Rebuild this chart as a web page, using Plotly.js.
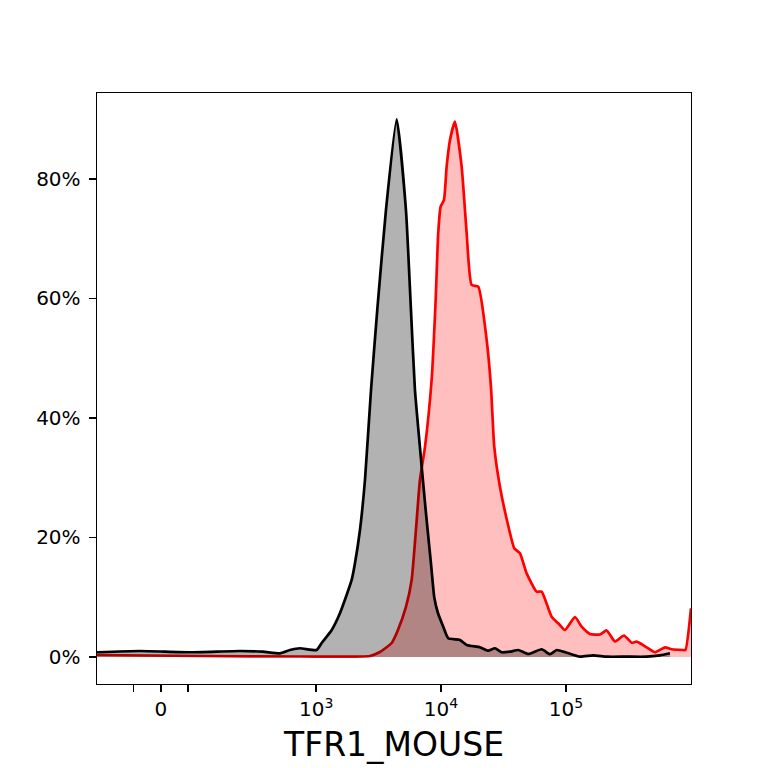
<!DOCTYPE html>
<html>
<head>
<meta charset="utf-8">
<script src="https://cdn.plot.ly/plotly-3.0.1.min.js"></script>
<style>
  html, body { margin: 0; padding: 0; background: white; }
  #chart { width: 768px; height: 768px; }
</style>
</head>
<body>
<div id="chart"></div>
<script>
// raw fluorescence values (TFR1_MOUSE) and % of max
const controlX = [-169, -46, 64, 233, 368, 508, 614, 740, 1009, 1107, 1334, 1555, 1928, 2050, 2247,
    2464, 2752, 3091, 3628, 4419, 5244, 5750, 6188, 6785, 7579, 8309, 8832, 9453, 10425, 11431,
    14180, 16043, 20499, 23880, 27019, 30573, 35616, 41504, 49904, 63865, 74405, 84180, 101229,
    129318, 165140, 211485, 305728, 441945, 564478, 678672];
const controlY = [0.79, 1.00, 0.79, 1.00, 0.89, 0.62, 1.17, 1.46, 1.17, 2.34, 4.52, 7.36, 12.89, 15.73, 21.26,
    29.62, 44.6, 58.1, 74.8, 90.0, 74.8, 58.1, 44.7, 35.1, 24.1, 15.7, 10.0, 7.36, 5.07, 3.13,
    2.85, 2.01, 1.62, 1.05, 1.46, 0.79, 0.89, 1.17, 0.50, 1.29, 0.47, 1.17, 0.72,
    0.05, 0.28, 0.05, 0.05, 0.05, 0.28, 0.62];

const stainedX = [-169, 90, 740, 2701, 3248, 3562, 4031, 4525, 5244, 5825, 6302, 6785, 7441, 8418, 9062,
    9505, 9936, 10563, 11098, 11793, 12932, 14628, 16043, 17589, 19866, 23190, 25099, 26674, 29624,
    34512, 38554, 42820, 48455, 58248, 63865, 76763, 86710, 98095, 117933, 133400, 155480, 186933,
    211485, 246388, 290835, 335225, 367483, 441945, 514855, 618988, 700120, 867273, 903000, 1000000];
const stainedY = [0.33, 0.17, 0.08, 0.17, 0.84, 1.42, 2.34, 4.52, 8.37, 12.89, 21.26, 29.62, 35.1, 46.4, 59.7,
    70.96, 75.36, 76.5, 82.06, 86.5, 89.6, 82.06, 70.96, 62.26, 61.97, 53.05, 45.24, 35.2, 28.5,
    21.97, 18.19, 17.36, 14.0, 10.93, 10.93, 6.74, 5.64, 4.52, 6.69, 5.07, 3.85, 3.77,
    4.44, 2.59, 3.60, 2.39, 2.56, 1.62, 0.79, 1.62, 1.29, 1.17, 1.17, 8.15];

const xTickValues = [0, 1e3, 1e4, 1e5];
const xTickLabels = ['0', '10<sup>3</sup>', '10<sup>4</sup>', '10<sup>5</sup>'];
const xMinorTicks = [-60, 60];
const yTickValues = [0, 20, 40, 60, 80];
const yTickLabels = ['0%', '20%', '40%', '60%', '80%'];
const xLimits = [-169, 1e6];
const yLimits = [-4.52, 94.39];

// biexponential-like display scale (linear near zero, log for large values)
const SCALE_W = 115;
function bix(v) {
    return Math.asinh(v / SCALE_W) / Math.LN10;
}

const traces = [
    {
        x: stainedX.map(bix),
        y: stainedY,
        type: 'scatter',
        mode: 'lines',
        fill: 'tozeroy',
        fillcolor: 'rgba(255,0,0,0.25)',
        line: { color: '#ff0000', width: 2.7, shape: 'spline', smoothing: 0.5 },
        hoverinfo: 'skip'
    },
    {
        x: controlX.map(bix),
        y: controlY,
        type: 'scatter',
        mode: 'lines',
        fill: 'tozeroy',
        fillcolor: 'rgba(0,0,0,0.3)',
        line: { color: '#000000', width: 2.7, shape: 'spline', smoothing: 0.5 },
        hoverinfo: 'skip'
    }
];

const axisStyle = {
    showline: true,
    mirror: true,
    linecolor: 'black',
    linewidth: 1.4,
    ticks: 'outside',
    ticklen: 7,
    tickwidth: 1.4,
    tickcolor: 'black',
    showgrid: false,
    zeroline: false
};

const layout = {
    width: 768,
    height: 768,
    margin: { l: 97, r: 77, t: 93, b: 84 },
    paper_bgcolor: 'white',
    plot_bgcolor: 'white',
    showlegend: false,
    font: { family: 'DejaVu Sans, sans-serif', size: 20, color: 'black' },
    xaxis: {
        ...axisStyle,
        range: xLimits.map(bix),
        tickmode: 'array',
        tickvals: xTickValues.map(bix),
        ticktext: xTickLabels,
        minor: {
            tickmode: 'array',
            tickvals: xMinorTicks.map(bix),
            ticks: 'outside',
            ticklen: 7,
            tickwidth: 1.4,
            tickcolor: 'black',
            showgrid: false
        },
        title: { text: 'TFR1_MOUSE', font: { size: 33 }, standoff: 12 }
    },
    yaxis: {
        ...axisStyle,
        range: yLimits,
        tickmode: 'array',
        tickvals: yTickValues,
        ticktext: yTickLabels,
        ticklabelstandoff: 4
    }
};

Plotly.newPlot('chart', traces, layout, { staticPlot: true, displayModeBar: false });
</script>
</body>
</html>
